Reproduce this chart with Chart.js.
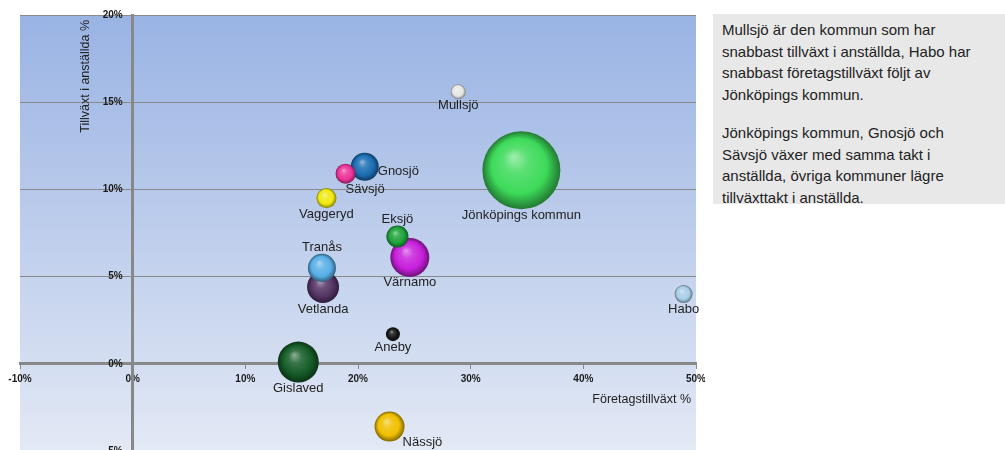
<!DOCTYPE html>
<html lang="sv">
<head>
<meta charset="utf-8">
<script src="https://cdn.jsdelivr.net/npm/chart.js@4/dist/chart.umd.min.js"></script>
<style>
html, body { margin: 0; padding: 0; background: #fff; overflow: hidden; }
#wrap { position: absolute; left: 0; top: 0; width: 705px; height: 470px; }
#note {
    position: absolute; left: 713px; top: 14px; width: 292px; height: 190px;
    box-sizing: border-box; background: #e8e8e8; padding: 5px 0 0 9px;
    font: 15px "Liberation Sans", Arial, sans-serif; line-height: 21.7px;
    color: #222; white-space: nowrap;
}
#note p { margin: 0; }
#note p + p { margin-top: 16px; }
</style>
</head>
<body>
<div id="wrap"><canvas id="myChart"></canvas></div>
<div id="note">
    <p>Mullsjö är den kommun som har<br>snabbast tillväxt i anställda, Habo har<br>snabbast företagstillväxt följt av<br>Jönköpings kommun.</p>
    <p>Jönköpings kommun, Gnosjö och<br>Sävsjö växer med samma takt i<br>anställda, övriga kommuner lägre<br>tillväxttakt i anställda.</p>
</div>
<script>
// drawn in this order so the small bubbles end up on top
const kommuner = ['Jönköpings kommun', 'Gislaved', 'Värnamo', 'Vetlanda', 'Nässjö', 'Gnosjö', 'Tranås',
    'Eksjö', 'Sävsjö', 'Vaggeryd', 'Habo', 'Mullsjö', 'Aneby'];
const foretagstillvaxt = [34.5, 14.7, 24.6, 16.9, 22.8, 20.6, 16.8, 23.5, 18.9, 17.2, 48.9, 28.9, 23.1];
const anstalldaTillvaxt = [11.1, 0.1, 6.1, 4.4, -3.6, 11.3, 5.5, 7.3, 10.9, 9.5, 4.0, 15.6, 1.7];
const storlek = [100, 27.6, 25, 16.8, 14.8, 12.9, 12.9, 8, 6.6, 6.6, 5.3, 3.7, 3.2];

const xTicks = [-10, 0, 10, 20, 30, 40, 50];
const yTicks = [-5, 0, 5, 10, 15, 20];

const farger = ['#3dda5a', '#155c27', '#c81fdc', '#543465', '#f0c000', '#1a6db3', '#58afe6',
    '#1ea23a', '#ec3398', '#f0ea10', '#a8cfe8', '#e6e6e6', '#151515'];
const etikettPlacering = ['under', 'under', 'under', 'under', 'hogerUnder', 'hoger', 'over',
    'over', 'underHoger', 'under', 'under', 'under', 'under'];

const maxRadie = 39;
const fontFamily = '"Liberation Sans", Arial, sans-serif';

function blanda(hex, mot, t) {
    const a = parseInt(hex.slice(1), 16);
    const b = parseInt(mot.slice(1), 16);
    const ch = (v, s) => (v >> s) & 255;
    const m = s => Math.round(ch(a, s) + (ch(b, s) - ch(a, s)) * t);
    return 'rgb(' + m(16) + ',' + m(8) + ',' + m(0) + ')';
}

function klot(context) {
    const chart = context.chart;
    const raw = context.raw;
    const bas = farger[context.dataIndex];
    if (!raw || !chart.chartArea) return bas;
    const x = chart.scales.x.getPixelForValue(raw.x);
    const y = chart.scales.y.getPixelForValue(raw.y);
    const r = raw.r;
    const g = chart.ctx.createRadialGradient(x - r * 0.2, y - r * 0.35, r * 0.02, x, y, r);
    g.addColorStop(0, blanda(bas, '#ffffff', 0.5));
    g.addColorStop(0.3, blanda(bas, '#ffffff', 0.15));
    g.addColorStop(0.7, bas);
    g.addColorStop(0.9, blanda(bas, '#000000', 0.3));
    g.addColorStop(1, blanda(bas, '#000000', 0.45));
    return g;
}

// centred axes should not take any room in the layout
function ingenPlats(s) {
    if (s.isHorizontal()) s.height = 0; else s.width = 0;
    s.paddingLeft = s.paddingRight = s.paddingTop = s.paddingBottom = 0;
}

const bakgrund = {
    id: 'bakgrund',
    beforeDraw(chart) {
        const {ctx, chartArea: a} = chart;
        const g = ctx.createLinearGradient(0, a.top, 0, a.bottom);
        g.addColorStop(0, '#99b3e3');
        g.addColorStop(1, '#e3e9f5');
        ctx.save();
        ctx.fillStyle = g;
        ctx.fillRect(a.left, a.top, a.right - a.left, a.bottom - a.top);
        ctx.restore();
    }
};

const etiketter = {
    id: 'etiketter',
    afterDatasetsDraw(chart) {
        const ctx = chart.ctx;
        const meta = chart.getDatasetMeta(0);
        ctx.save();
        ctx.font = '13px ' + fontFamily;
        ctx.fillStyle = '#222';
        ctx.textBaseline = 'middle';
        meta.data.forEach((pt, i) => {
            const r = pt.options.radius;
            let x = pt.x, y = pt.y;
            switch (etikettPlacering[i]) {
                case 'over': ctx.textAlign = 'center'; y -= r + 6; break;
                case 'hoger': ctx.textAlign = 'left'; x += r - 1; y += 5; break;
                case 'underHoger': ctx.textAlign = 'left'; y += r + 6; break;
                case 'hogerUnder': ctx.textAlign = 'left'; x += r - 2; y += r + 1; break;
                default: ctx.textAlign = 'center'; y += r + 6;
            }
            ctx.fillText(kommuner[i], x, y);
        });

        // axis titles
        const xs = chart.scales.x, ys = chart.scales.y;
        ctx.font = '12.5px ' + fontFamily;
        ctx.textAlign = 'right';
        ctx.fillText('Företagstillväxt %', chart.chartArea.right - 5, ys.getPixelForValue(0) + 36);
        ctx.translate(xs.getPixelForValue(0) - 47, chart.chartArea.top + 5);
        ctx.rotate(-Math.PI / 2);
        ctx.fillText('Tillväxt i anställda %', 0, 0);
        ctx.restore();
    }
};

const punkter = kommuner.map((k, i) => ({
    x: foretagstillvaxt[i],
    y: anstalldaTillvaxt[i],
    r: maxRadie * Math.sqrt(storlek[i] / 100)
}));

const tickFont = {family: fontFamily, size: 10, weight: 'bold'};

const config = {
    type: 'bubble',
    data: {
        labels: kommuner,
        datasets: [{
            data: punkter,
            backgroundColor: klot,
            borderWidth: 0,
            hoverBorderWidth: 0
        }]
    },
    options: {
        responsive: true,
        maintainAspectRatio: false,
        animation: false,
        layout: {autoPadding: false, padding: {left: 20, right: 9, top: 15, bottom: 19}},
        plugins: {legend: {display: false}, tooltip: {enabled: false}},
        scales: {
            x: {
                type: 'linear',
                position: {y: 0},
                min: xTicks[0],
                max: xTicks[xTicks.length - 1],
                afterFit: ingenPlats,
                afterBuildTicks: s => { s.ticks = xTicks.map(v => ({value: v})); },
                ticks: {callback: v => v + '%', font: tickFont, color: '#1a1a1a', padding: 5, maxRotation: 0},
                grid: {drawOnChartArea: false, tickLength: 4, color: '#888'},
                border: {color: '#888', width: 3}
            },
            y: {
                type: 'linear',
                position: {x: 0},
                min: yTicks[0],
                max: yTicks[yTicks.length - 1],
                afterFit: ingenPlats,
                afterBuildTicks: s => { s.ticks = yTicks.map(v => ({value: v})); },
                // labels of a centred axis sit right on the line, the en spaces give the gap
                ticks: {callback: v => v + '%\u2002\u2002', font: tickFont, color: '#1a1a1a'},
                grid: {color: '#8a8a8a', lineWidth: 1, tickLength: 4},
                border: {color: '#888', width: 3}
            }
        }
    },
    plugins: [bakgrund, etiketter]
};

const myChart = new Chart(document.getElementById('myChart'), config);
</script>
</body>
</html>
